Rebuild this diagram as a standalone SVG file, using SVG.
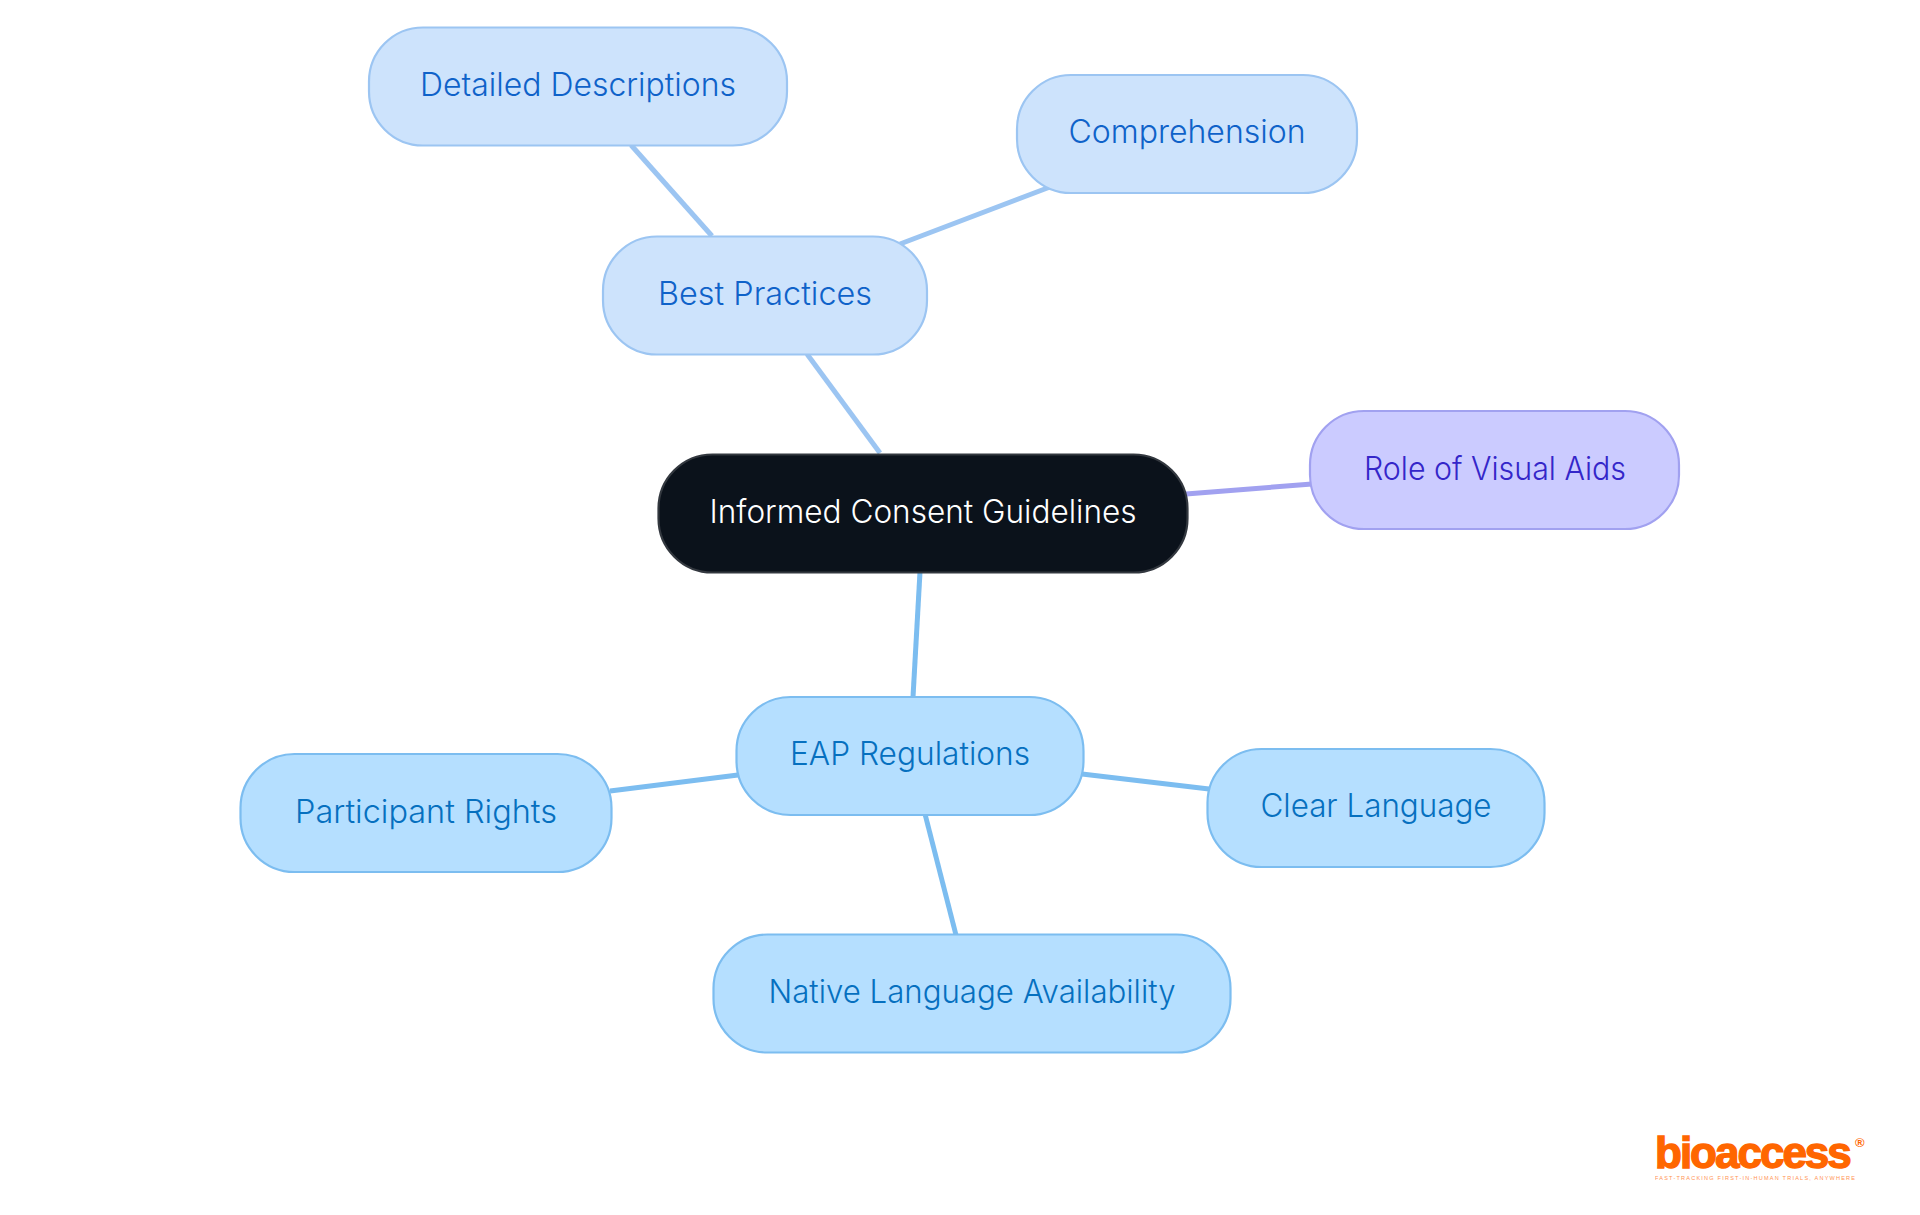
<svg xmlns="http://www.w3.org/2000/svg" width="1920" height="1215" viewBox="0 0 1920 1215">
<style>
.n{stroke-width:2.2}
.t{font-family:Inter,"Noto Sans","Liberation Sans",sans-serif;font-size:32px;font-weight:350;text-anchor:middle}
.a rect{fill:#cde3fc;stroke:#9cc5f2}.a text{fill:#0f62c9}
.b rect{fill:#b5dfff;stroke:#7cbdf0}.b text{fill:#0670bf}
.c rect{fill:#cbcbff;stroke:#a1a1f0}.c text{fill:#3426c9}
.d rect{fill:#0b121b;stroke:#33383f}.d text{fill:#fff}
#connectors line{stroke-width:5;fill:none}
.la{stroke:#9cc5f2}.lb{stroke:#7cbdf0}.lc{stroke:#a1a1f0}
</style>
<rect width="1920" height="1215" fill="#fff"/>
<g id="connectors">
<line class="la" x1="880" y1="453" x2="807" y2="354"/>
<line class="la" x1="712" y1="236" x2="631" y2="145"/>
<line class="la" x1="900" y1="244" x2="1050" y2="187"/>
<line class="lc" x1="1186" y1="494" x2="1312" y2="484"/>
<line class="lb" x1="920" y1="572" x2="913" y2="697"/>
<line class="lb" x1="738" y1="775" x2="610" y2="791"/>
<line class="lb" x1="1082" y1="774" x2="1209" y2="789"/>
<line class="lb" x1="925" y1="814" x2="956" y2="935"/>
</g>
<g id="n-root" class="d"><rect class="n" x="658.5" y="454.5" width="529" height="118" rx="54"/><text class="t" x="923" y="523" textLength="427" lengthAdjust="spacingAndGlyphs">Informed Consent Guidelines</text></g>
<g id="n-best" class="a"><rect class="n" x="603" y="236.5" width="324" height="118" rx="54"/><text class="t" x="765" y="305" textLength="214" lengthAdjust="spacingAndGlyphs">Best Practices</text></g>
<g id="n-detailed" class="a"><rect class="n" x="369" y="27.5" width="418" height="118" rx="54"/><text class="t" x="578" y="96" textLength="316" lengthAdjust="spacingAndGlyphs">Detailed Descriptions</text></g>
<g id="n-comp" class="a"><rect class="n" x="1017" y="75" width="340" height="118" rx="54"/><text class="t" x="1187" y="143" textLength="237" lengthAdjust="spacingAndGlyphs">Comprehension</text></g>
<g id="n-visual" class="c"><rect class="n" x="1310" y="411" width="369" height="118" rx="54"/><text class="t" x="1495" y="480" textLength="262" lengthAdjust="spacingAndGlyphs">Role of Visual Aids</text></g>
<g id="n-eap" class="b"><rect class="n" x="736.5" y="697" width="347" height="118" rx="54"/><text class="t" x="910" y="765" textLength="240" lengthAdjust="spacingAndGlyphs">EAP Regulations</text></g>
<g id="n-rights" class="b"><rect class="n" x="240.5" y="754" width="371" height="118" rx="54"/><text class="t" x="426" y="823" textLength="262" lengthAdjust="spacingAndGlyphs">Participant Rights</text></g>
<g id="n-clear" class="b"><rect class="n" x="1207.5" y="749" width="337" height="118" rx="54"/><text class="t" x="1376" y="817" textLength="231" lengthAdjust="spacingAndGlyphs">Clear Language</text></g>
<g id="n-native" class="b"><rect class="n" x="713.5" y="934.5" width="517" height="118" rx="54"/><text class="t" x="972" y="1003" textLength="407" lengthAdjust="spacingAndGlyphs">Native Language Availability</text></g>
<g id="logo" fill="#ff6600" font-family="'Liberation Sans',sans-serif">
<text x="1655" y="1168" font-size="44" font-weight="700" stroke="#ff6600" stroke-width="1.4" letter-spacing="-2">bioaccess</text>
<text x="1855" y="1147" font-size="13" font-weight="700">®</text>
<text x="1655" y="1180" font-size="5.5" font-weight="400" opacity=".7" textLength="200">FAST-TRACKING FIRST-IN-HUMAN TRIALS, ANYWHERE</text>
</g>
</svg>
